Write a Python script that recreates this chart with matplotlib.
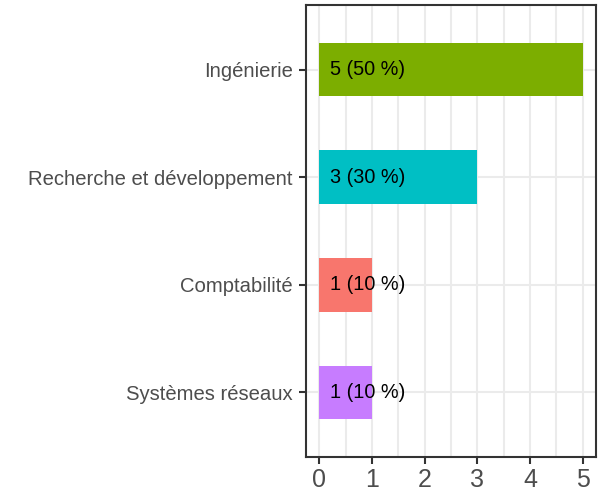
import matplotlib
matplotlib.use("Agg")
import matplotlib.pyplot as plt
from matplotlib.ticker import MultipleLocator

categories = ["Systèmes réseaux", "Comptabilité", "Recherche et développement", "Ingénierie"]
counts = [1, 1, 3, 5]
labels = ["1 (10 %)", "1 (10 %)", "3 (30 %)", "5 (50 %)"]
colors = ["#C77CFF", "#F8766D", "#00BFC4", "#7CAE00"]
xticks = [0, 1, 2, 3, 4, 5]

plt.rcParams['font.family'] = ['Liberation Sans', 'DejaVu Sans']

fig = plt.figure(figsize=(6.03, 4.87), dpi=100)
ax = fig.add_axes([306/603, 1-457/487, (596-306)/603, (457-5)/487])

ypos = list(range(len(categories)))
ax.barh(ypos, counts, height=0.5, color=colors, zorder=3)
for y, lab in zip(ypos, labels):
    ax.text(0.2, y, lab, ha='left', va='center', fontsize=14.3, color='black', zorder=4)

ax.set_xlim(-0.25, 5.25)
ax.set_ylim(-0.6, len(categories) - 0.4)
ax.set_yticks(ypos)
ax.set_yticklabels(categories)
ax.set_xticks(xticks)
ax.xaxis.set_minor_locator(MultipleLocator(0.5))
ax.grid(True, which='both', axis='x', color='#EBEBEB', linewidth=1.5, zorder=0)
ax.grid(True, which='major', axis='y', color='#EBEBEB', linewidth=1.5, zorder=0)
ax.tick_params(axis='y', labelsize=14.6, labelcolor='#4D4D4D', length=5, width=1.5, color='#333333', pad=4.5)
ax.tick_params(axis='x', labelsize=18, labelcolor='#4D4D4D', length=5, width=1.5, color='#333333', pad=3)
ax.tick_params(axis='x', which='minor', length=0)
for s in ax.spines.values():
    s.set_color('#333333')
    s.set_linewidth(1.5)

fig.savefig("out.png", dpi=100)
